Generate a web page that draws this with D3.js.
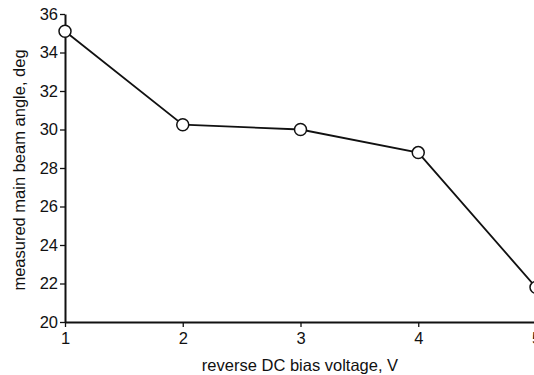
<!DOCTYPE html>
<html>
<head>
<meta charset="utf-8">
<script src="https://cdn.jsdelivr.net/npm/d3@7"></script>
<style>
  body { margin: 0; background: #fff; }
  svg { display: block; font-family: "Liberation Sans", Arial, sans-serif; }
</style>
</head>
<body>
<svg id="chart" width="534" height="375"></svg>
<script>
// Chart data.
const voltages = [1, 2, 3, 4, 5];
const beamAngles = [35.1, 30.25, 30.0, 28.8, 21.8];
const xTicks = [1, 2, 3, 4, 5];
const yTicks = [20, 22, 24, 26, 28, 30, 32, 34, 36];

const margin = {top: 14, left: 65, bottom: 53};
const width = 536 - margin.left;
const height = 375 - margin.top - margin.bottom;

const xScale = d3.scaleLinear().domain([1, 5]).range([0, width]);
const yScale = d3.scaleLinear().domain([20, 36]).range([height, 0]);

const svg = d3.select('#chart');
const group = svg.append('g')
    .attr('transform', `translate(${margin.left}, ${margin.top})`);

// Axes.
const xAxis = group.append('g')
    .attr('transform', `translate(0, ${height})`)
    .call(d3.axisBottom(xScale).tickValues(xTicks).tickFormat(d3.format('d'))
        .tickSizeInner(5).tickSizeOuter(0).tickPadding(5));
const yAxis = group.append('g')
    .call(d3.axisLeft(yScale).tickValues(yTicks).tickFormat(d3.format('d'))
        .tickSizeInner(5).tickSizeOuter(0).tickPadding(2));

[xAxis, yAxis].forEach(a => {
  a.select('.domain').attr('stroke', '#111').attr('stroke-width', 2);
  a.selectAll('.tick line').attr('stroke', '#111').attr('stroke-width', 1.3);
  a.selectAll('.tick text').attr('fill', '#111')
      .attr('font-size', 16.5).attr('font-family', '"Liberation Sans", Arial, sans-serif');
});

// Axis titles.
svg.append('text')
    .attr('x', 300).attr('y', 371)
    .attr('text-anchor', 'middle')
    .attr('font-size', 16.5).attr('fill', '#111')
    .text('reverse DC bias voltage, V');
svg.append('text')
    .attr('transform', 'translate(25, 170) rotate(-90)')
    .attr('text-anchor', 'middle')
    .attr('font-size', 16.5).attr('fill', '#111')
    .text('measured main beam angle, deg');

// Line and markers.
const points = voltages.map((v, i) => [v, beamAngles[i]]);
const line = d3.line()
    .x(d => xScale(d[0]))
    .y(d => yScale(d[1]));
group.append('path').datum(points)
    .attr('d', line)
    .attr('fill', 'none')
    .attr('stroke', '#111')
    .attr('stroke-width', 1.8);
group.selectAll('circle').data(points).join('circle')
    .attr('cx', d => xScale(d[0]))
    .attr('cy', d => yScale(d[1]))
    .attr('r', 6)
    .attr('fill', '#fff')
    .attr('stroke', '#111')
    .attr('stroke-width', 1.5);
</script>
</body>
</html>
